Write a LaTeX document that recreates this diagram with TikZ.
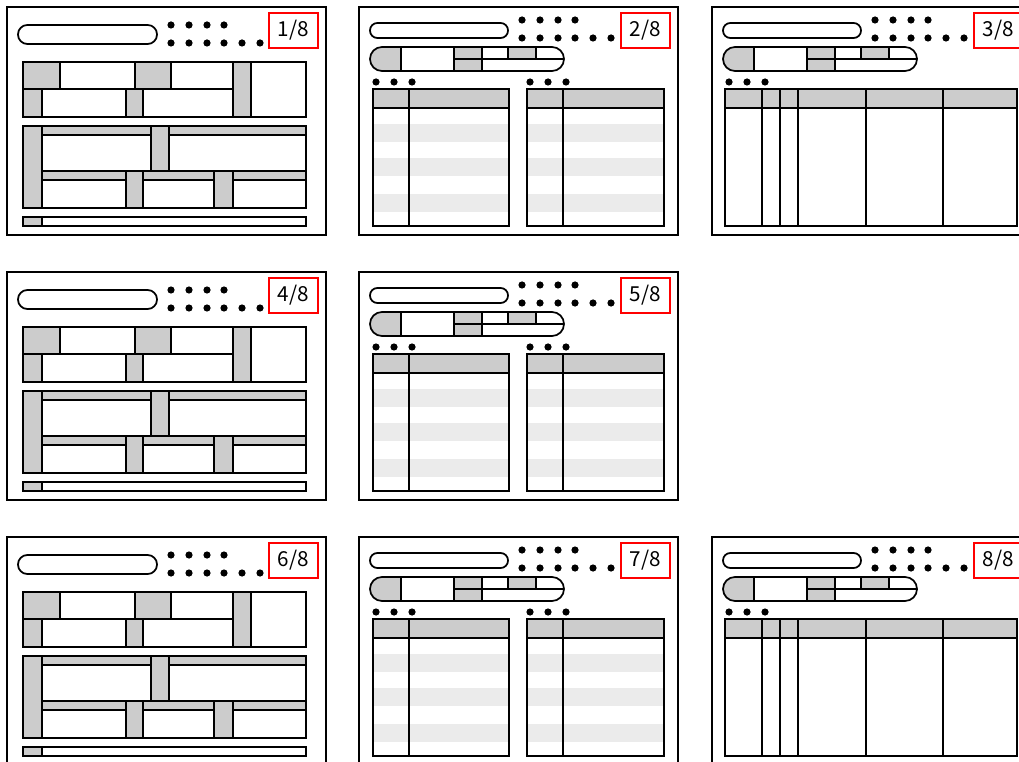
\documentclass[tikz,border=0pt]{standalone}
\usepackage{fontspec}
\newfontfamily\labelfont{Noto Sans CJK JP}
\usepackage{tikz}

\definecolor{cellgray}{HTML}{CCCCCC}
\definecolor{stripegray}{HTML}{EBEBEB}

\begin{document}
\begin{tikzpicture}[
    x=0.75pt, y=-0.75pt,
    frame/.style={draw, line width=1.5pt},
    cell/.style={draw, line width=1.3pt},
    bar/.style={draw, line width=1.3pt, rounded corners=5.5pt},
    dot/.style={fill, circle, minimum size=5.4pt, inner sep=0pt},
    pagelabel/.style={rectangle, draw=red, line width=1.1pt, minimum width=36.5pt, minimum height=26pt, inner sep=0pt, font=\labelfont\fontsize{15.5}{15.5}\selectfont},
    % header part shared by the list and table pages
    pagehead/.pic={
      \draw[bar] (11,16) rectangle (149,31);
      \foreach \x in {163,181,199,216} \node[dot] at (\x,13) {};
      \foreach \x in {163,181,199,216,234,252} \node[dot] at (\x,31) {};
      \begin{scope}
        \clip[rounded corners=9pt] (11,40) rectangle (205,64);
        \fill[cellgray] (11,40) rectangle (42,64) (95,40) rectangle (123,64) (149,40) rectangle (177,52);
        \draw[cell] (42,40) -- (42,64) (95,40) -- (95,64) (123,40) -- (123,64)
          (149,40) -- (149,52) (177,40) -- (177,52) (95,52) -- (205,52);
      \end{scope}
      \draw[cell, rounded corners=9pt] (11,40) rectangle (205,64);
      \foreach \x in {17,35,53} \node[dot] at (\x,75) {};
    },
    % page with blocks
    layouta/.pic={
      \draw[frame] (0,0) rectangle (319,228);
      \draw[bar, rounded corners=7pt] (11,18) rectangle (150,37);
      \foreach \x in {164,182,200,217} \node[dot] at (\x,18) {};
      \foreach \x in {164,182,200,217,235,253} \node[dot] at (\x,36) {};
      % upper block
      \fill[cellgray] (16,55) rectangle (53,82) (128,55) rectangle (164,82) (226,55) rectangle (244,110)
        (16,82) rectangle (35,110) (119,82) rectangle (136,110);
      \draw[cell] (16,55) rectangle (299,110);
      \draw[cell] (16,82) -- (226,82)
        (53,55) -- (53,82) (128,55) -- (128,82) (164,55) -- (164,82)
        (35,82) -- (35,110) (119,82) -- (119,110) (136,82) -- (136,110)
        (226,55) -- (226,110) (244,55) -- (244,110);
      % lower block
      \fill[cellgray] (16,119) rectangle (35,201) (35,119) rectangle (299,128) (144,128) rectangle (162,164)
        (35,164) rectangle (299,173) (119,173) rectangle (136,201) (207,173) rectangle (226,201);
      \draw[cell] (16,119) rectangle (299,201);
      \draw[cell] (35,119) -- (35,201) (35,128) -- (144,128) (162,128) -- (299,128)
        (144,119) -- (144,164) (162,119) -- (162,164) (35,164) -- (299,164)
        (35,173) -- (119,173) (136,173) -- (207,173) (226,173) -- (299,173)
        (119,164) -- (119,201) (136,164) -- (136,201) (207,164) -- (207,201) (226,164) -- (226,201);
      % bottom bar
      \fill[cellgray] (16,210) rectangle (35,219);
      \draw[cell] (16,210) rectangle (299,219) (35,210) -- (35,219);
    },
    % page with two striped lists
    layoutb/.pic={
      \draw[frame] (0,0) rectangle (319,228);
      \pic {pagehead};
      \foreach \x in {171,189,207} \node[dot] at (\x,75) {};
      \foreach \l/\r in {14/150,168/305} {
        \foreach \y in {117,151,187} \fill[stripegray] (\l,\y) rectangle (\r,\y+18);
        \fill[cellgray] (\l,82) rectangle (\r,101);
        \draw[cell] (\l,82) rectangle (\r,219) (\l,101) -- (\r,101) (\l+36,82) -- (\l+36,219);
      }
    },
    % page with one wide table
    layoutc/.pic={
      \draw[frame] (0,0) rectangle (319,228);
      \pic {pagehead};
      \fill[cellgray] (13,82) rectangle (305,101);
      \draw[cell] (13,82) rectangle (305,219) (13,101) -- (305,101);
      \foreach \x in {50,68,86,154,231} \draw[cell] (\x,82) -- (\x,219);
    }
  ]
    \useasboundingbox (0,0) rectangle (1019,762);
    \clip (0,0) rectangle (1019,762);
    \fill[white] (0,0) rectangle (1019,762);

    % Row 1
    \pic at (7,7) {layouta};
    \pic at (359,7) {layoutb};
    \pic at (712,7) {layoutc};

    % Row 2
    \pic at (7,272) {layouta};
    \pic at (359,272) {layoutb};

    % Row 3
    \pic at (7,537) {layouta};
    \pic at (359,537) {layoutb};
    \pic at (712,537) {layoutc};

    % Page numbers
    \node[pagelabel] (page1) at (293.5,30.5) {1/8};
    \node[pagelabel] (page2) at (645.5,30.5) {2/8};
    \node[pagelabel] (page3) at (998.5,30.5) {3/8};
    \node[pagelabel] (page4) at (293.5,295.5) {4/8};
    \node[pagelabel] (page5) at (645.5,295.5) {5/8};
    \node[pagelabel] (page6) at (293.5,560.5) {6/8};
    \node[pagelabel] (page7) at (645.5,560.5) {7/8};
    \node[pagelabel] (page8) at (998.5,560.5) {8/8};

\end{tikzpicture}
\end{document}
